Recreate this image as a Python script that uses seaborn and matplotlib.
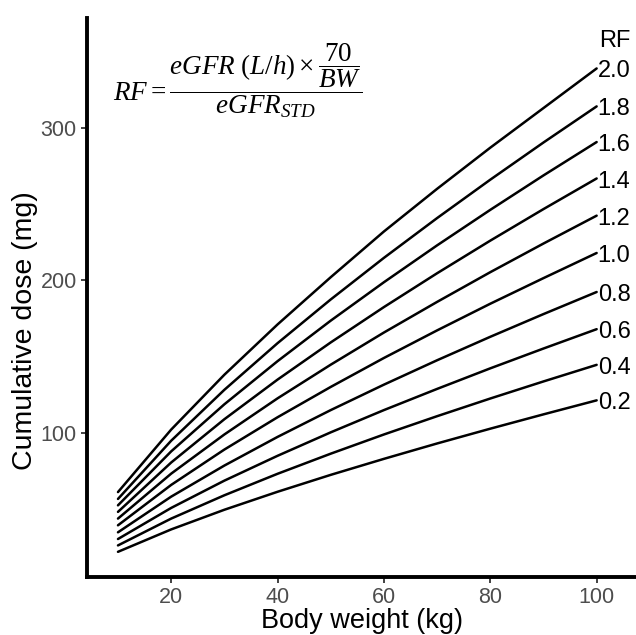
import pandas as pd
import matplotlib
matplotlib.use("Agg")
import matplotlib.pyplot as plt
import seaborn as sns

# --- data ---
body_weight = [10, 20, 30, 40, 50, 60, 70, 80, 90, 100]
rf_levels = ["2.0", "1.8", "1.6", "1.4", "1.2", "1.0", "0.8", "0.6", "0.4", "0.2"]
dose_rf20 = [61.0, 102.0, 138.0, 171.0, 202.0, 232.0, 260.0, 287.0, 313.0, 339.0]
dose_rf18 = [56.5, 94.7, 128.1, 158.7, 187.4, 214.7, 240.8, 266.0, 290.4, 314.1]
dose_rf16 = [52.3, 87.7, 118.6, 146.9, 173.5, 198.7, 222.9, 246.2, 268.8, 290.7]
dose_rf14 = [48.0, 80.4, 108.8, 134.8, 159.2, 182.4, 204.6, 226.0, 246.7, 266.8]
dose_rf12 = [43.6, 73.1, 98.8, 122.5, 144.6, 165.7, 185.8, 205.3, 224.1, 242.4]
dose_rf10 = [39.2, 65.7, 88.9, 110.1, 130.0, 149.0, 167.1, 184.6, 201.4, 217.9]
dose_rf08 = [34.6, 58.0, 78.4, 97.2, 114.8, 131.5, 147.5, 162.9, 177.8, 192.3]
dose_rf06 = [30.2, 50.6, 68.5, 84.8, 100.2, 114.8, 128.7, 142.2, 155.2, 167.9]
dose_rf04 = [26.0, 43.6, 58.9, 73.0, 86.2, 98.8, 110.8, 122.4, 133.6, 144.5]
dose_rf02 = [21.8, 36.5, 49.4, 61.2, 72.3, 82.8, 92.9, 102.6, 112.0, 121.2]

all_doses = [dose_rf20, dose_rf18, dose_rf16, dose_rf14, dose_rf12,
             dose_rf10, dose_rf08, dose_rf06, dose_rf04, dose_rf02]

rows = []
for rf, doses in zip(rf_levels, all_doses):
    for bw, d in zip(body_weight, doses):
        rows.append({"BW": bw, "Dose": d, "RF": rf})
df = pd.DataFrame(rows)

# --- plot ---
sns.set_theme(style="white")
plt.rcParams["font.family"] = ["Liberation Sans", "DejaVu Sans"]
plt.rcParams["mathtext.fontset"] = "custom"
plt.rcParams["mathtext.rm"] = "Liberation Serif"
plt.rcParams["mathtext.it"] = "Liberation Serif:italic"

fig = plt.figure(figsize=(6.36, 6.35), dpi=100)
ax = fig.add_axes([0.137, 0.0914, 0.863, 0.88])

sns.lineplot(data=df, x="BW", y="Dose", hue="RF", units="RF", estimator=None,
             palette=["black"] * len(rf_levels), legend=False, linewidth=1.8, ax=ax)

ax.set_xlim(4.2, 107.4)
ax.set_ylim(5.3, 372)
ax.set_xticks([20, 40, 60, 80, 100])
ax.set_yticks([100, 200, 300])

for s in ["top", "right"]:
    ax.spines[s].set_visible(False)
for s in ["left", "bottom"]:
    ax.spines[s].set_linewidth(2.8)
    ax.spines[s].set_color("black")

ax.tick_params(axis="both", which="major", length=4, width=1.3, color="#333333",
               labelsize=15.5, labelcolor="#4D4D4D", direction="out", bottom=True, left=True)
ax.set_xlabel("Body weight (kg)", fontsize=19.5, color="black", labelpad=0)
ax.set_ylabel("Cumulative dose (mg)", fontsize=20.5, color="black")
ax.yaxis.set_label_coords(-0.09, 0.441)

# RF labels at line ends
for rf, doses in zip(rf_levels, all_doses):
    ax.text(100.2, doses[-1] - 2, rf, fontsize=17, ha="left", va="center",
            color="black", clip_on=False)
ax.text(100.4, 357, "RF", fontsize=17, ha="left", va="center", color="black", clip_on=False)

# formula
ax.text(0.047, 0.8875,
        r"$RF = \dfrac{eGFR\ (L/h) \times \dfrac{70}{BW}}{eGFR_{STD}}$",
        transform=ax.transAxes, fontsize=19.5, ha="left", va="center", color="black")

fig.savefig("out.png", dpi=100)
